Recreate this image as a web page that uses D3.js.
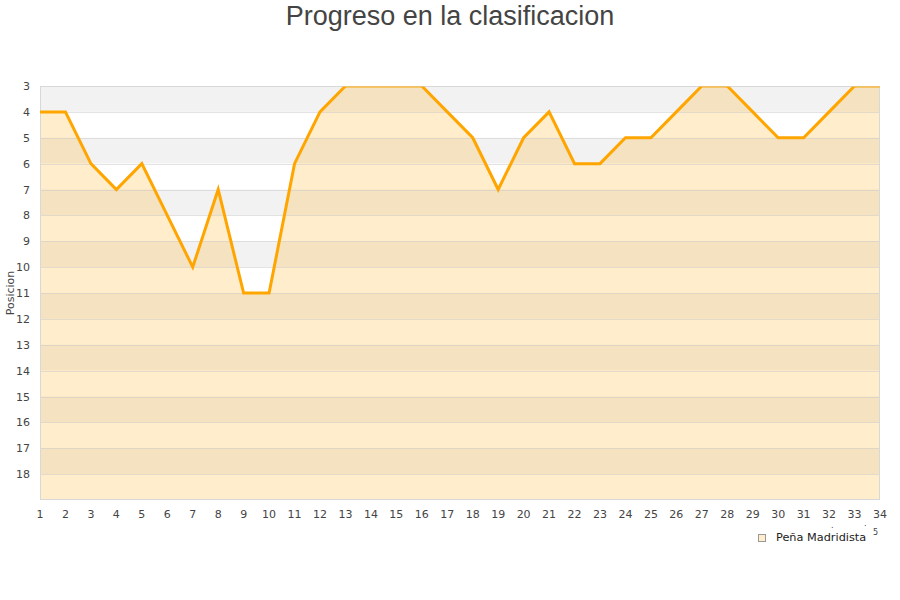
<!DOCTYPE html>
<html>
<head>
<meta charset="utf-8">
<script src="https://cdn.jsdelivr.net/npm/d3@7"></script>
<style>
  body { margin: 0; background: #fff; }
  svg { display: block; }
</style>
</head>
<body>
<svg id="chart" width="900" height="600"></svg>
<script>
const rounds = [1,2,3,4,5,6,7,8,9,10,11,12,13,14,15,16,17,18,19,20,21,22,23,24,25,26,27,28,29,30,31,32,33,34];
const positions = [4,4,6,7,6,8,10,7,11,11,6,4,3,3,3,3,4,5,7,5,4,6,6,5,5,4,3,3,4,5,5,4,3,3];
const yTicks = [3,4,5,6,7,8,9,10,11,12,13,14,15,16,17,18];
const title = "Progreso en la clasificacion";
const yLabel = "Posicion";
const seriesName = "Peña Madridista";

const svg = d3.select("#chart");
const m = {left: 40, right: 20, top: 86, bottom: 100};
const W = 900, H = 600;
const x = d3.scaleLinear().domain([1, 34]).range([m.left, W - m.right]);
const y = d3.scaleLinear().domain([3, 19]).range([m.top, H - m.bottom]);

// background bands
const bands = d3.range(3, 19);
svg.append("g").selectAll("rect").data(bands).join("rect")
  .attr("x", x(1)).attr("width", x(34) - x(1))
  .attr("y", d => y(d)).attr("height", d => y(d + 1) - y(d))
  .attr("fill", d => (d % 2 === 1) ? "#f2f2f2" : "#ffffff");

// area
const area = d3.area().x((d, i) => x(rounds[i])).y0(y(19)).y1(d => y(d));
svg.append("path").datum(positions)
  .attr("d", area)
  .attr("fill", "#ffa500").attr("fill-opacity", 0.2);

// gridlines
svg.append("g").selectAll("line").data(d3.range(4, 19)).join("line")
  .attr("x1", x(1)).attr("x2", x(34))
  .attr("y1", d => Math.round(y(d)) + 0.5).attr("y2", d => Math.round(y(d)) + 0.5)
  .attr("stroke", "#c8c8c8").attr("stroke-opacity", 0.5).attr("stroke-width", 1);

// border
svg.append("rect")
  .attr("x", x(1) + 0.5).attr("y", y(3) + 0.5)
  .attr("width", x(34) - x(1) - 1).attr("height", y(19) - y(3) - 1)
  .attr("fill", "none").attr("stroke", "#d8d8d8").attr("stroke-width", 1);

// line
const clipId = "clipPlot";
svg.append("clipPath").attr("id", clipId).append("rect")
  .attr("x", x(1)).attr("y", y(3) + 0.5).attr("width", x(34) - x(1)).attr("height", y(19) - y(3));
const line = d3.line().x((d, i) => x(rounds[i])).y(d => y(d));
svg.append("path").datum(positions)
  .attr("d", line)
  .attr("clip-path", `url(#${clipId})`)
  .attr("fill", "none").attr("stroke", "#ffa500").attr("stroke-width", 3)
  .attr("stroke-linejoin", "miter");

// y axis labels
svg.append("g").selectAll("text").data(yTicks).join("text")
  .attr("x", 30).attr("y", d => y(d) + 4)
  .attr("text-anchor", "end")
  .attr("font-family", "DejaVu Sans, sans-serif").attr("font-size", 11)
  .attr("fill", "#444").text(d => d);

// x axis labels
svg.append("g").selectAll("text").data(rounds).join("text")
  .attr("x", d => x(d)).attr("y", 518)
  .attr("text-anchor", "middle")
  .attr("font-family", "DejaVu Sans, sans-serif").attr("font-size", 11)
  .attr("fill", "#444").text(d => d);

// title
svg.append("text").attr("x", 450).attr("y", 25)
  .attr("text-anchor", "middle")
  .attr("font-family", "Liberation Sans, Arial, sans-serif").attr("font-size", 27)
  .attr("fill", "#444").text(title);

// y label
svg.append("text")
  .attr("transform", `translate(14, ${(y(3) + y(19)) / 2}) rotate(-90)`)
  .attr("text-anchor", "middle")
  .attr("font-family", "DejaVu Sans, sans-serif").attr("font-size", 11)
  .attr("fill", "#444").text(yLabel);

// legend
const lg = svg.append("g");
lg.append("rect").attr("x", 758.5).attr("y", 534.5).attr("width", 7).attr("height", 7)
  .attr("fill", "#ffedcc").attr("stroke", "#999").attr("stroke-width", 1);
lg.append("text").attr("x", 776).attr("y", 541)
  .attr("font-family", "DejaVu Sans, sans-serif").attr("font-size", 11.3)
  .attr("fill", "#222").text(seriesName);
// small stray marks near axis end
lg.append("text").attr("x", 873).attr("y", 535)
  .attr("font-family", "DejaVu Sans, sans-serif").attr("font-size", 8)
  .attr("fill", "#444").text("5");
lg.append("text").attr("x", 831).attr("y", 528)
  .attr("font-family", "DejaVu Sans, sans-serif").attr("font-size", 8)
  .attr("fill", "#444").text(".");
lg.append("text").attr("x", 864).attr("y", 526)
  .attr("font-family", "DejaVu Sans, sans-serif").attr("font-size", 8)
  .attr("fill", "#444").text(".");
</script>
</body>
</html>
